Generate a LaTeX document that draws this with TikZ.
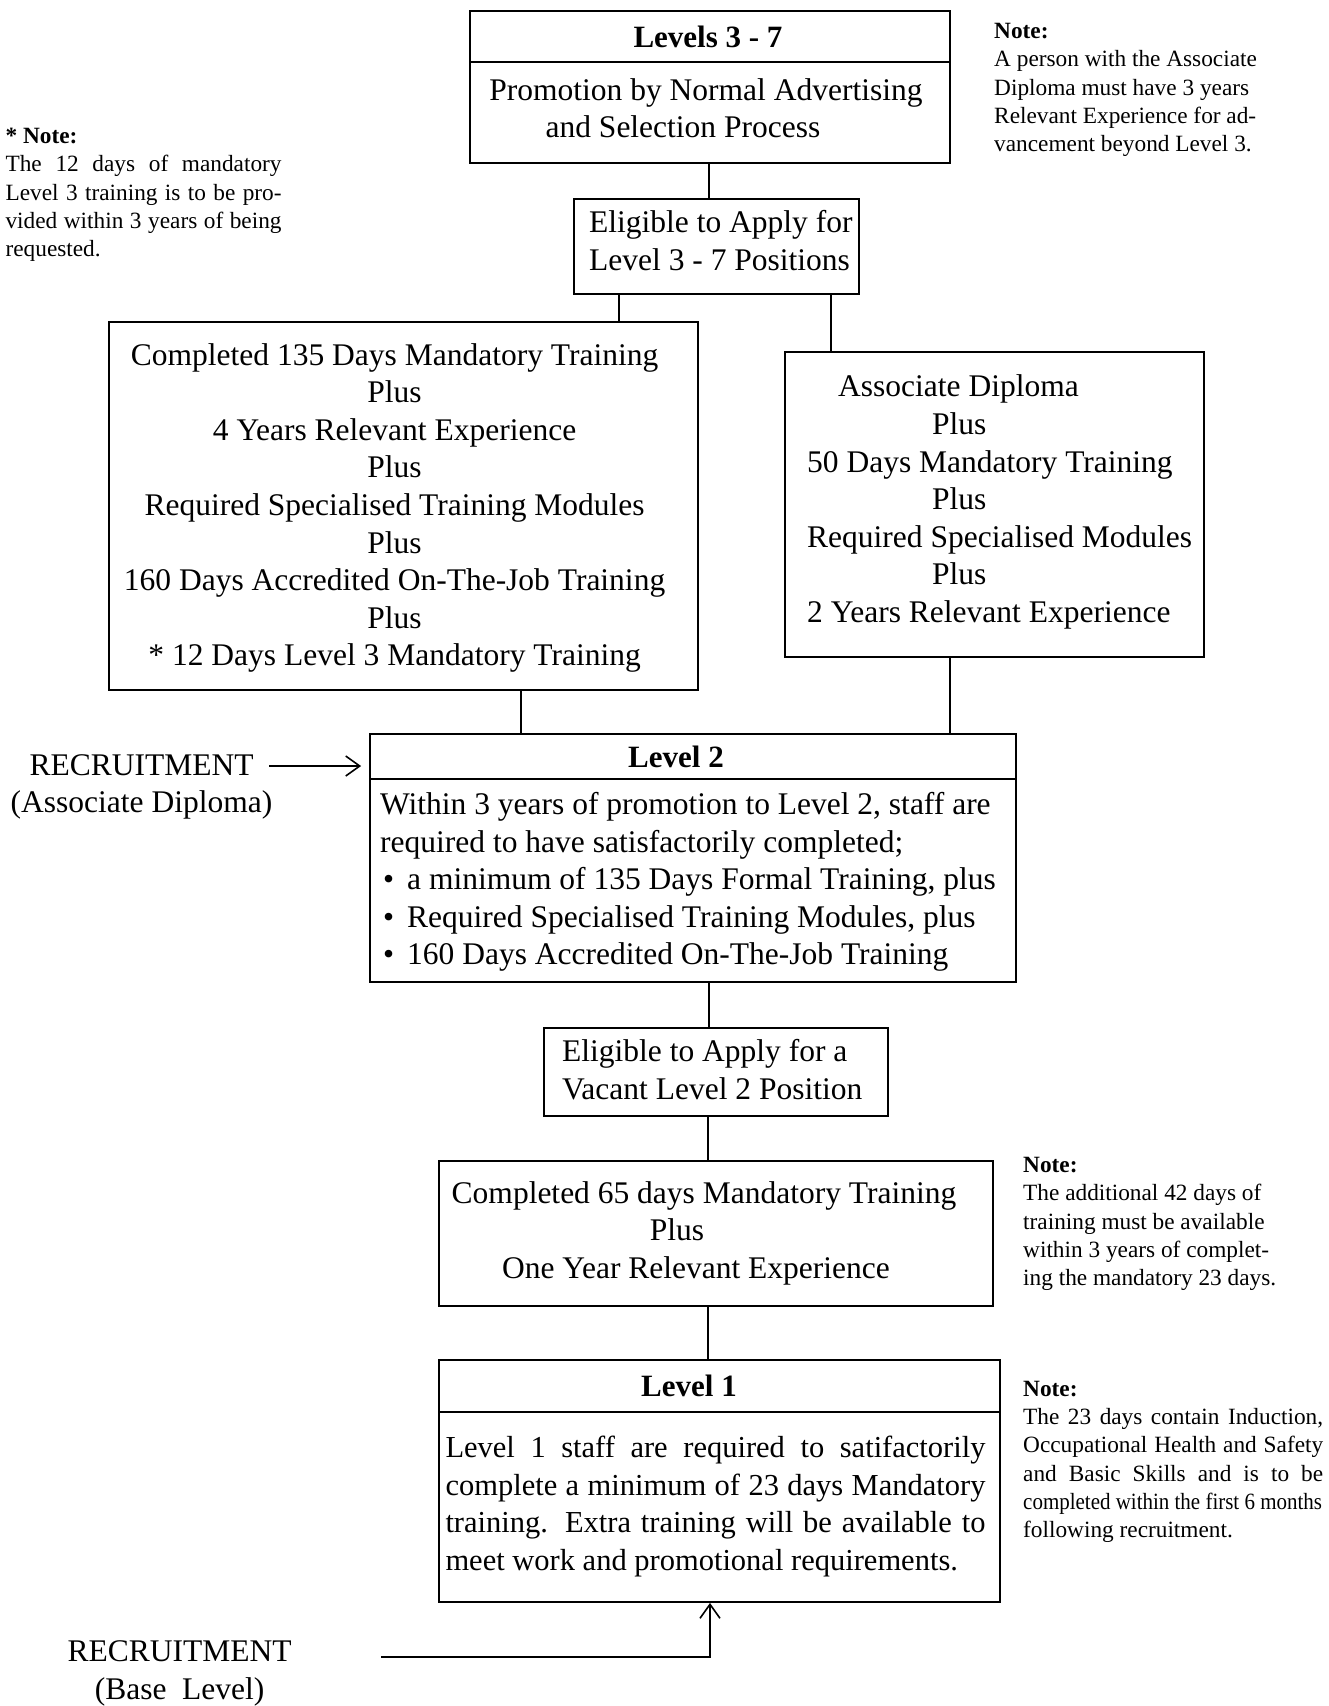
\documentclass[tikz,border=0pt]{standalone}
\usepackage{fontspec}
\usepackage{graphicx}
\setmainfont{Liberation Serif}
\usetikzlibrary{arrows.meta}
\begin{document}
\begin{tikzpicture}[x=1pt,y=-1pt,
  box/.style={draw, line width=1.8pt, inner sep=0pt},
  main/.style={font=\fontsize{31.5}{37.55}\selectfont, inner sep=0pt},
  hdr/.style={font=\fontsize{31}{37}\selectfont\bfseries, inner sep=0pt},
  note/.style={font=\fontsize{23.3}{28.3}\selectfont, inner sep=0pt, anchor=west},
  conn/.style={line width=1.3pt},
  arr/.style={conn, -{Straight Barb[length=14pt,width=20pt,line width=1.6pt]}}]
\useasboundingbox (0,0) rectangle (1329,1706);
\fill[white] (0,0) rectangle (1329,1706);

% boxes
\node[box, minimum width=480, minimum height=152] (top) at (710,87) {};
\node[box, minimum width=285, minimum height=95] (elig1) at (716.5,246.5) {};
\node[box, minimum width=589, minimum height=368] (lbox) at (403.5,506) {};
\node[box, minimum width=419, minimum height=305] (rbox) at (994.5,504.5) {};
\node[box, minimum width=646, minimum height=248] (lvl2) at (693,858) {};
\node[box, minimum width=344, minimum height=88] (elig2) at (716,1072) {};
\node[box, minimum width=554, minimum height=145] (b65) at (716,1233.5) {};
\node[box, minimum width=561, minimum height=242] (lvl1) at (719.5,1481) {};

% dividers
\coordinate (d1) at (0,62);
\coordinate (d2) at (0,779);
\coordinate (d3) at (0,1412);
\draw[line width=1.8pt] (top.west |- d1) -- (top.east |- d1);
\draw[line width=1.8pt] (lvl2.west |- d2) -- (lvl2.east |- d2);
\draw[line width=1.8pt] (lvl1.west |- d3) -- (lvl1.east |- d3);

% texts in boxes
\node[hdr] (t1) at (708,37) {Levels 3 - 7};
\node[main, align=center] (t2) at (706,108) {Promotion by Normal Advertising\\\hspace*{-46pt}and Selection Process};
\node[main, align=left, anchor=west] (e1t) at (589,240.5) {Eligible to Apply for\\Level 3 - 7 Positions};
\node[main, align=center] (lt) at (394.6,508) {Completed 135 Days Mandatory Training\\Plus\\4 Years Relevant Experience\\Plus\\Required Specialised Training Modules\\Plus\\160 Days Accredited On-The-Job Training\\Plus\\* 12 Days Level 3 Mandatory Training};
\node[main, align=left, anchor=west] (rt) at (807,502) {\hspace*{31pt}Associate Diploma\\\hspace*{125pt}Plus\\50 Days Mandatory Training\\\hspace*{125pt}Plus\\Required Specialised Modules\\\hspace*{125pt}Plus\\2 Years Relevant Experience};
\node[hdr] (l2h) at (676,756.5) {Level 2};
\node[main, align=left, anchor=west] (l2t) at (380,882) {Within 3 years of promotion to Level 2, staff are\\required to have satisfactorily completed;\\\makebox[27pt][l]{\hspace{3pt}\textbullet}a minimum of 135 Days Formal Training, plus\\\makebox[27pt][l]{\hspace{3pt}\textbullet}Required Specialised Training Modules, plus\\\makebox[27pt][l]{\hspace{3pt}\textbullet}160 Days Accredited On-The-Job Training};
\node[main, align=left, anchor=west] (e2t) at (562,1069.5) {Eligible to Apply for a\\Vacant Level 2 Position};
\node[main, align=center] (t65) at (700,1233) {\hspace*{8pt}Completed 65 days Mandatory Training\\\hspace*{-46pt}Plus\\\hspace*{-8pt}One Year Relevant Experience};
\node[hdr] (l1h) at (689,1386) {Level 1};
\node[main, font=\fontsize{30.5}{37.5}\selectfont, text width=540, align=justify] (l1t) at (715.5,1506.5) {Level 1 staff are required to satifactorily\linebreak complete a minimum of 23 days Mandatory\linebreak training. Extra training will be available to\linebreak meet work and promotional requirements.};

% recruitment labels
\node[main, align=center] (rec1) at (141.5,787) {RECRUITMENT\\(Associate Diploma)};
\node[main, align=center, font=\fontsize{31.5}{38}\selectfont] (rec2) at (179.6,1673.5) {RECRUITMENT\\(Base~~Level)};

% notes
\node[note, align=left] (n1) at (994,90) {\textbf{Note:}\\A person with the Associate\\Diploma must have 3 years\\Relevant Experience for ad-\\vancement beyond Level 3.};
\node[note, text width=276, align=justify] (n2) at (5.4,195) {\textbf{* Note:}\\The 12 days of mandatory\linebreak Level 3 training is to be pro-\linebreak vided within 3 years of being\linebreak requested.};
\node[note, align=left] (n3) at (1023,1224) {\textbf{Note:}\\The additional 42 days of\\training must be available\\within 3 years of complet-\\ing the mandatory 23 days.};
\node[note, text width=300, align=justify] (n4) at (1023,1462) {\textbf{Note:}\\The 23 days contain Induction,\linebreak Occupational Health and Safety\linebreak and Basic Skills and is to be\linebreak \scalebox{0.9}[1]{completed within the first 6 months}\\following recruitment.};

% connector x positions
\coordinate (x709) at (709,0);
\coordinate (x619) at (619,0);
\coordinate (x831) at (831,0);
\coordinate (x521) at (521,0);
\coordinate (x950) at (950,0);
\coordinate (x708) at (708,0);
\coordinate (x710) at (710,0);

\draw[conn] (top.south -| x709) -- (elig1.north -| x709);
\draw[conn] (elig1.south -| x619) -- (lbox.north -| x619);
\draw[conn] (elig1.south -| x831) -- (rbox.north -| x831);
\draw[conn] (lbox.south -| x521) -- (lvl2.north -| x521);
\draw[conn] (rbox.south -| x950) -- (lvl2.north -| x950);
\draw[conn] (lvl2.south -| x709) -- (elig2.north -| x709);
\draw[conn] (elig2.south -| x708) -- (b65.north -| x708);
\draw[conn] (b65.south -| x708) -- (lvl1.north -| x708);

\coordinate (ra) at (269,766);
\draw[arr, shorten >=8pt] (ra) -- (lvl2.west |- ra);
\coordinate (rb) at (381,1657);
\draw[arr] (rb) -| (lvl1.south -| x710);
\end{tikzpicture}
\end{document}
